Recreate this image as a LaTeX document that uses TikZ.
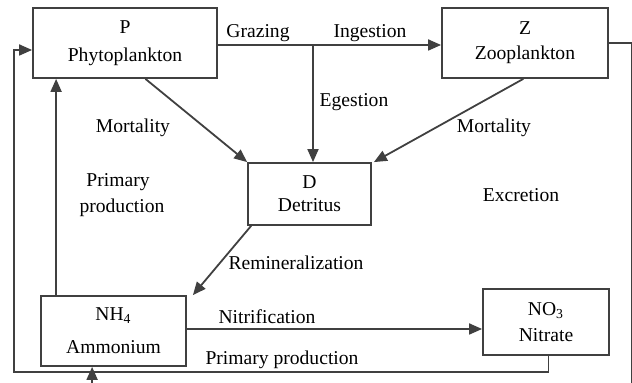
\documentclass[tikz,border=0pt]{standalone}
\usepackage{fontspec}
\setmainfont{Liberation Serif}
\usetikzlibrary{arrows.meta,calc}
\begin{document}
\begin{tikzpicture}[x=0.5pt,y=-0.5pt,
  box/.style={draw=black!75,line width=0.9pt,inner sep=0pt,align=center,font=\fontsize{9.8}{13}\selectfont},
  lbl/.style={font=\fontsize{9.8}{13}\selectfont,inner sep=0pt,anchor=base},
  conn/.style={draw=black!75,line width=0.9pt},
  arr/.style={-{Triangle[length=6.5pt,width=5.5pt]}}]
\useasboundingbox (0,0) rectangle (632,383);
% boxes
\node[box,minimum width=92pt,minimum height=35pt] (P) at (125,43) {P\\[1.2pt]Phytoplankton};
\node[box,minimum width=83pt,minimum height=35pt] (Z) at (525,43) {Z\\[-0.5pt]Zooplankton};
\node[box,minimum width=61.5pt,minimum height=31pt] (D) at (309.5,194) {D\\[-1.5pt]Detritus};
\node[box,minimum width=72.5pt,minimum height=35pt] (N) at (113.5,331) {NH\textsubscript{4}\\[3.5pt]Ammonium};
\node[box,minimum width=63pt,minimum height=33pt] (O) at (546,322) {NO\textsubscript{3}\\Nitrate};
% helper coordinates
\coordinate (pe) at ([yshift=-1pt]P.east);
\coordinate (ze) at ([yshift=-1pt]Z.west);
\coordinate (j) at (313,45);
\coordinate (np) at ($(N.north west)+(16,0)$);
\coordinate (ne) at ([yshift=1pt]N.east);
\coordinate (bo) at ($(O.south west)!0.52!(O.south east)$);
\coordinate (pw) at ([yshift=-3.5pt]P.west);
\coordinate (ns) at ($(N.south west)+(52,0)$);
% connectors
\draw[conn] (pe) -- (j);
\draw[conn,arr] (j) -- (ze);
\draw[conn,arr] (j) -- (j |- D.north);
\draw[conn,arr] ($(P.south west)!0.61!(P.south east)$) -- (D.north west);
\draw[conn,arr] ($(Z.south west)!0.49!(Z.south east)$) -- ([xshift=1pt]D.north east);
\draw[conn,arr] ([xshift=2pt]D.south west) -- ([xshift=3pt]N.north east);
\draw[conn,arr] (np) -- (np |- P.south);
\draw[conn,arr] (ne) -- (ne -| O.west);
\draw[conn,arr] (bo) |- (14,372) |- (pw);
\draw[conn,arr] (Z.east) -| (632,395) -| (ns);
% labels
\node[lbl] (lg) at (258,38) {Grazing};
\node[lbl] (li) at (370,38) {Ingestion};
\node[lbl] (le) at (354,107) {Egestion};
\node[lbl] (lm1) at (133,133) {Mortality};
\node[lbl] (lm2) at (494,133) {Mortality};
\node[lbl] (lp1) at (118,187) {Primary};
\node[lbl] (lp2) at (122,213) {production};
\node[lbl] (lx) at (521,202) {Excretion};
\node[lbl] (lr) at (296,270) {Remineralization};
\node[lbl] (ln) at (267,324) {Nitrification};
\node[lbl] (lpp) at (282,365) {Primary production};
\end{tikzpicture}
\end{document}
